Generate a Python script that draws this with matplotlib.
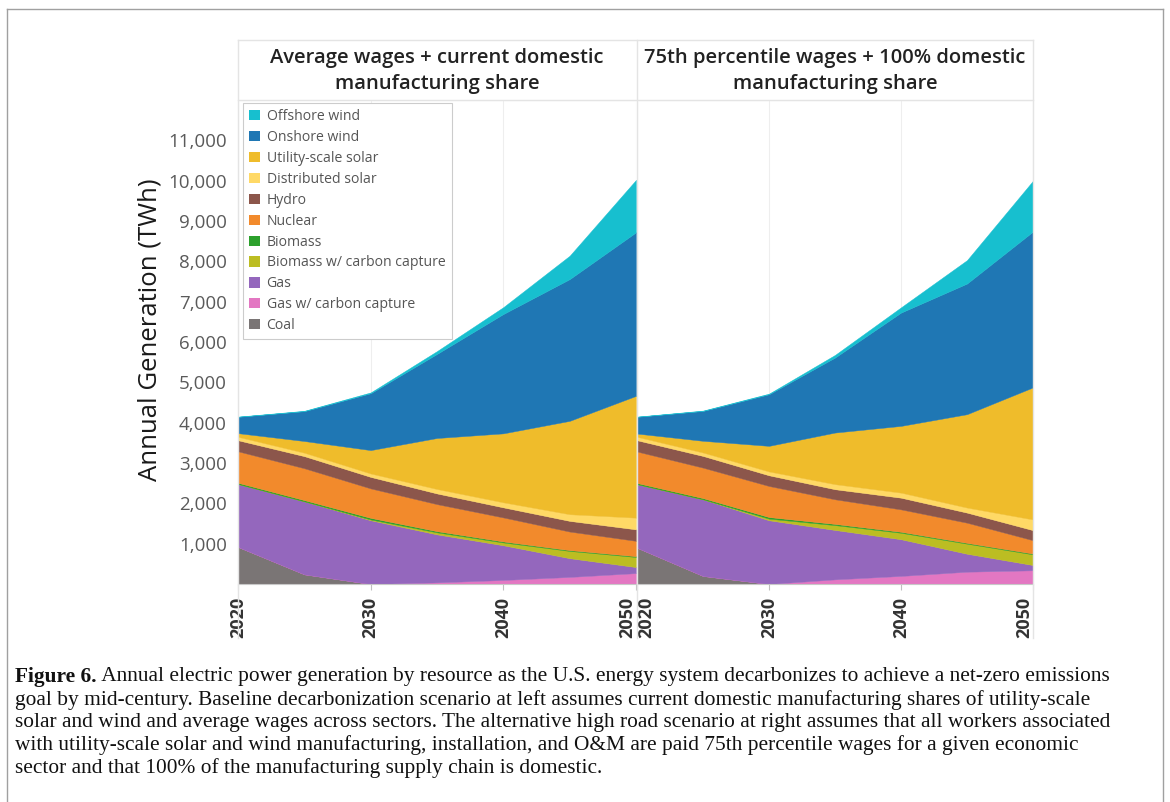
import matplotlib
matplotlib.use("Agg")
import matplotlib.pyplot as plt
from matplotlib.lines import Line2D
from matplotlib.patches import Patch

plt.rcParams['font.family'] = ['Open Sans', 'DejaVu Sans']

years = [2020, 2025, 2030, 2035, 2040, 2045, 2050]

# stack order, bottom to top
resources = ["Coal", "Gas w/ carbon capture", "Gas", "Biomass w/ carbon capture",
             "Biomass", "Nuclear", "Hydro", "Distributed solar",
             "Utility-scale solar", "Onshore wind", "Offshore wind"]
colors = ["#7a7575", "#e377c2", "#9467bd", "#bcbd22", "#2ca02c", "#f28a2c",
          "#8c564b", "#ffd966", "#efbc2b", "#1f77b4", "#17bfcf"]

# TWh, baseline scenario (left)
base = {
    "Coal":                      [920, 240, 0, 0, 0, 0, 0],
    "Gas w/ carbon capture":     [0, 0, 0, 40, 100, 175, 270],
    "Gas":                       [1560, 1810, 1580, 1190, 860, 465, 150],
    "Biomass w/ carbon capture": [0, 0, 20, 50, 70, 180, 250],
    "Biomass":                   [30, 30, 40, 30, 25, 20, 20],
    "Nuclear":                   [780, 790, 730, 670, 595, 460, 380],
    "Hydro":                     [275, 300, 285, 265, 250, 265, 285],
    "Distributed solar":         [85, 85, 85, 110, 125, 165, 290],
    "Utility-scale solar":       [90, 290, 580, 1265, 1710, 2315, 3020],
    "Onshore wind":              [405, 740, 1410, 2085, 2960, 3515, 4055],
    "Offshore wind":             [5, 10, 20, 70, 170, 580, 1300],
}

# TWh, high road scenario (right)
high = {
    "Coal":                      [900, 200, 0, 0, 0, 0, 0],
    "Gas w/ carbon capture":     [0, 0, 0, 115, 200, 305, 340],
    "Gas":                       [1575, 1900, 1580, 1225, 910, 445, 130],
    "Biomass w/ carbon capture": [0, 0, 40, 120, 160, 250, 265],
    "Biomass":                   [30, 30, 40, 30, 25, 20, 20],
    "Nuclear":                   [780, 755, 770, 610, 555, 500, 330],
    "Hydro":                     [280, 290, 265, 250, 290, 250, 250],
    "Distributed solar":         [85, 85, 95, 125, 125, 125, 265],
    "Utility-scale solar":       [80, 290, 635, 1280, 1655, 2315, 3275],
    "Onshore wind":              [415, 740, 1280, 1860, 2810, 3240, 3865],
    "Offshore wind":             [5, 10, 15, 65, 130, 580, 1260],
}

titles = ["Average wages + current domestic\nmanufacturing share",
          "75th percentile wages + 100% domestic\nmanufacturing share"]

caption_bold = "Figure 6."
caption = [
    " Annual electric power generation by resource as the U.S. energy system decarbonizes to achieve a net-zero emissions",
    "goal by mid-century. Baseline decarbonization scenario at left assumes current domestic manufacturing shares of utility-scale",
    "solar and wind and average wages across sectors. The alternative high road scenario at right assumes that all workers associated",
    "with utility-scale solar and wind manufacturing, installation, and O&M are paid 75th percentile wages for a given economic",
    "sector and that 100% of the manufacturing supply chain is domestic.",
]

W, H = 1170, 802
fig = plt.figure(figsize=(W / 100, H / 100), dpi=100)


def fx(px):
    return px / W


def fy(py):
    return 1 - py / H


def vline(x, y0, y1, color, lw=1.0):
    fig.add_artist(Line2D([fx(x), fx(x)], [fy(y0), fy(y1)], color=color, lw=lw,
                          transform=fig.transFigure))


def hline(y, x0, x1, color, lw=1.0):
    fig.add_artist(Line2D([fx(x0), fx(x1)], [fy(y), fy(y)], color=color, lw=lw,
                          transform=fig.transFigure))


panels = [(238, 636), (637, 1033)]
axes = []
for i, (data, (x0, x1)) in enumerate(zip([base, high], panels)):
    ax = fig.add_axes([fx(x0), fy(584), fx(x1) - fx(x0), 484 / H])
    ax.stackplot(years, *[data[r] for r in resources], colors=colors,
                 edgecolor="face", linewidth=0.3, zorder=2)
    ax.set_xlim(2020, 2050)
    ax.set_ylim(0, 12000)
    ax.set_yticks(range(1000, 12000, 1000))
    ax.set_yticks(range(0, 12001, 1000), minor=True)
    ax.set_xticks([2020, 2030, 2040, 2050])
    ax.grid(True, which="minor", axis="y", color="#eeeeee", lw=0.8, zorder=0)
    ax.grid(True, which="major", axis="x", color="#eeeeee", lw=0.8, zorder=0)
    ax.tick_params(axis="y", which="both", length=0)
    ax.tick_params(axis="x", length=4, color="#c0c0c0", pad=5)
    for s in ("top", "right", "left"):
        ax.spines[s].set_visible(False)
    ax.spines["bottom"].set_color("#c8c8c8")
    ax.set_xticklabels([str(y) for y in [2020, 2030, 2040, 2050]], rotation=90,
                       fontsize=13, fontweight="bold", color="#333333")
    labs = ax.get_xticklabels()
    # keep the end labels inside their panel
    if i == 1:
        labs[0].set_horizontalalignment("left")
    labs[-1].set_horizontalalignment("right")
    if i == 0:
        ax.set_yticklabels([f"{v:,}" for v in range(1000, 12000, 1000)],
                           fontsize=13.5, color="#5a5a5a")
        ax.tick_params(axis="y", pad=8)
        ax.set_ylabel("Annual Generation (TWh)", fontsize=18.5, color="#1a1a1a")
        ax.yaxis.set_label_coords(-0.19, 0.525)
    else:
        ax.set_yticklabels([])
    fig.text(fx((x0 + x1) / 2), fy(71), titles[i], ha="center", va="center",
             fontsize=14.5, fontweight="semibold", color="#222222",
             linespacing=1.35)
    axes.append(ax)

# legend, top of the stack first
handles = [Patch(facecolor=c, edgecolor="none") for c in colors[::-1]]
leg = axes[0].legend(handles, resources[::-1], loc="upper left",
                     bbox_to_anchor=(0.012, 0.994), borderaxespad=0,
                     fontsize=10.1, labelcolor="#555555", frameon=True,
                     fancybox=False, framealpha=1, edgecolor="#cccccc",
                     handlelength=0.75, handleheight=0.75, handletextpad=0.5,
                     labelspacing=0.42, borderpad=0.45)
leg.get_frame().set_linewidth(0.8)
leg.set_zorder(5)

# header box and panel dividers
hline(40, 238, 1033, "#e4e4e4")
hline(100, 238, 1033, "#e4e4e4")
for x in (238, 636.5, 1033):
    vline(x, 40, 638, "#e4e4e4")

# outer frame
vline(7, 9, 802, "#a0a0a0")
vline(1163, 9, 802, "#a0a0a0")
hline(9, 7, 1163, "#a0a0a0")

# caption
cap_y = [677, 700, 722, 745, 768]
serif = ["Liberation Serif", "DejaVu Serif"]
cap_size = 15.4
bold = fig.text(fx(15), fy(cap_y[0]), caption_bold, family=serif, fontsize=cap_size,
                fontweight="bold", ha="left", va="center", color="#111111")
fig.canvas.draw()
bb = bold.get_window_extent(fig.canvas.get_renderer())
fig.text(bb.x1 / W, fy(cap_y[0]), caption[0], family=serif, fontsize=cap_size,
         ha="left", va="center", color="#111111")
for y, line in zip(cap_y[1:], caption[1:]):
    fig.text(fx(15), fy(y), line, family=serif, fontsize=cap_size, ha="left",
             va="center", color="#111111")

fig.savefig("out.png", dpi=100)
